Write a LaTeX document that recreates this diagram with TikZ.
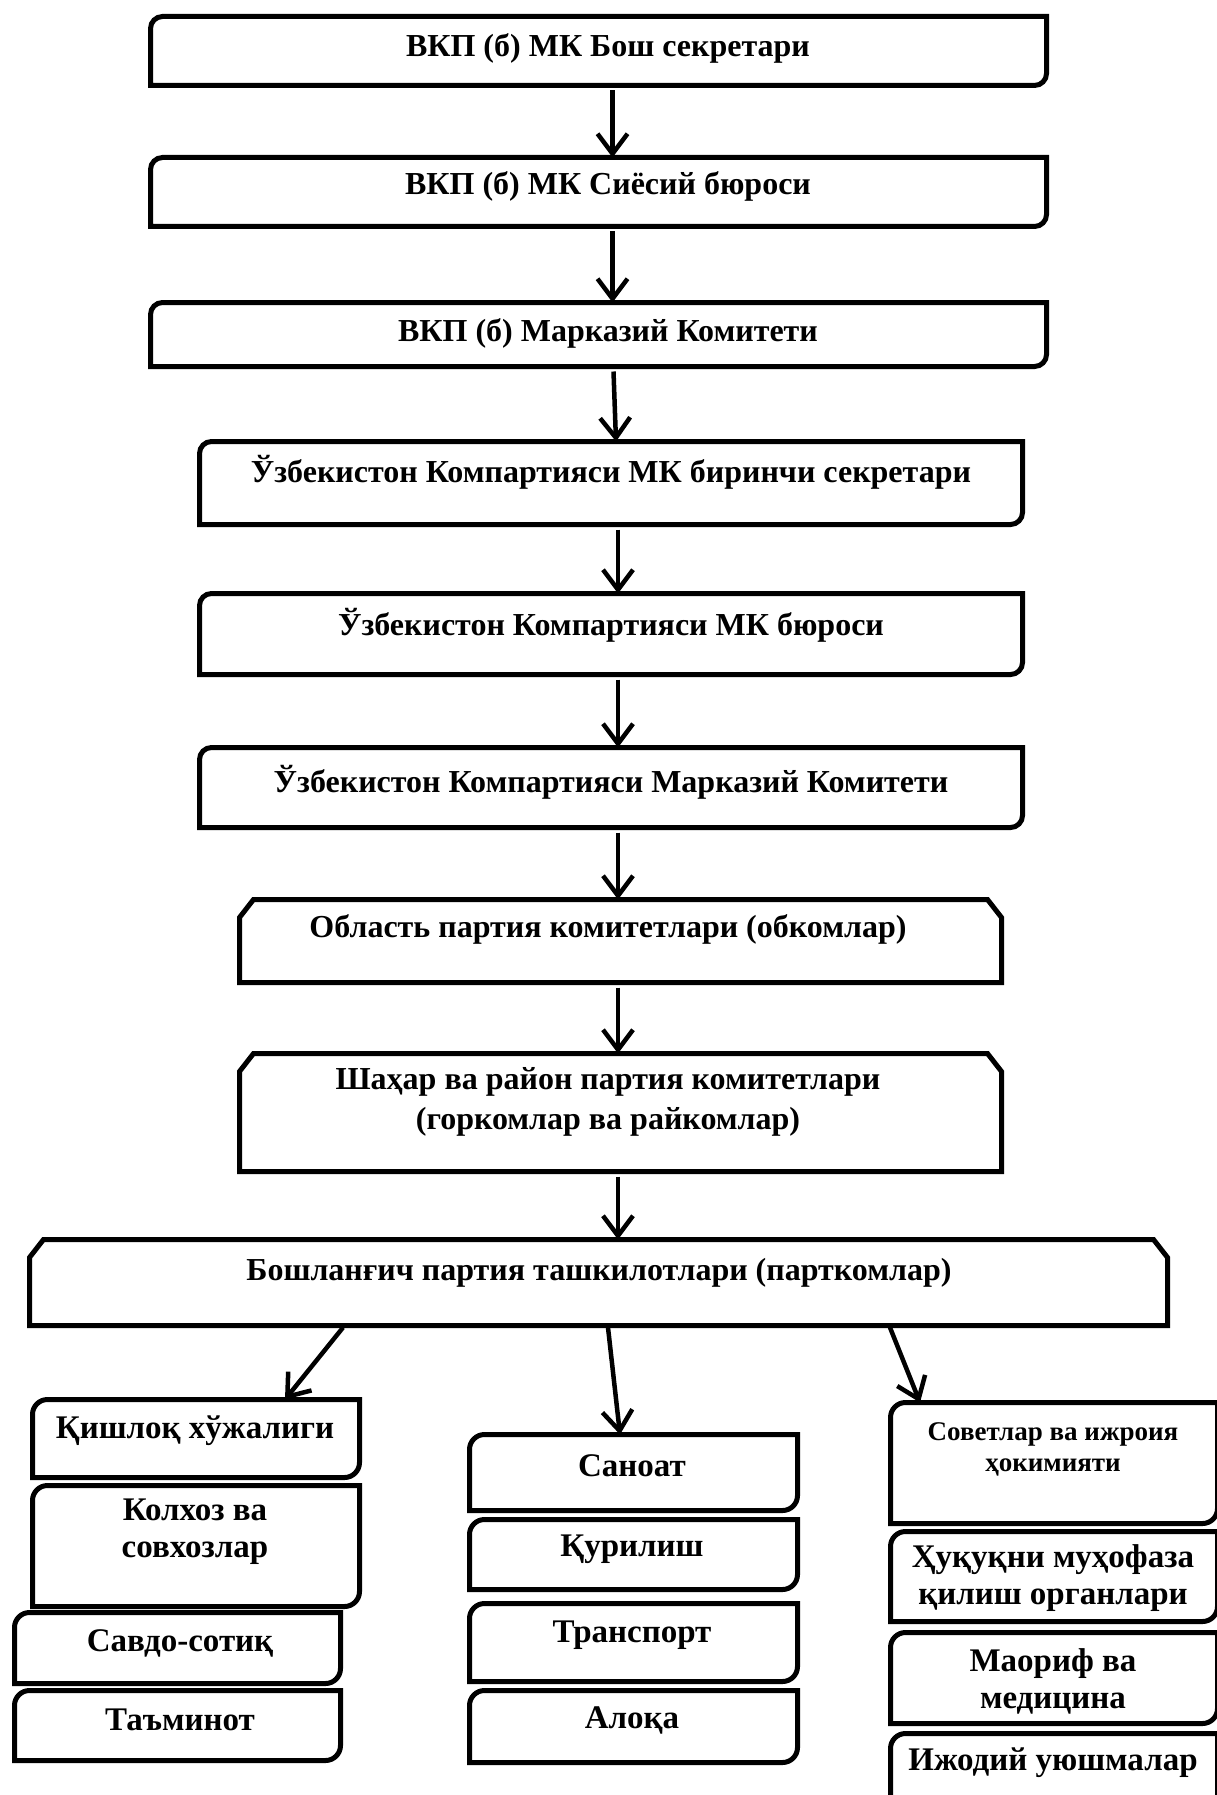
\documentclass[tikz,border=0pt]{standalone}
\usepackage{fontspec}
\setmainfont{Liberation Serif}
\usetikzlibrary{arrows.meta,calc}
\tikzset{
  frame/.style={inner sep=0pt,outer sep=0pt,draw=none},
  boxline/.style={line width=5pt,draw=black},
  toptext/.style={font=\bfseries\fontsize{32}{40}\selectfont,align=center,inner sep=0pt},
  bottext/.style={font=\bfseries\fontsize{33}{37}\selectfont,align=center,inner sep=0pt},
  smalltext/.style={font=\bfseries\fontsize{27}{31}\selectfont,align=center,inner sep=0pt},
  arr/.style={line width=4.5pt,-{Straight Barb[length=20pt,width=30pt]}}
}
\newcommand\RBox[6]{%
  \node[frame,minimum width={#4-#2-5},minimum height={#5-#3-5}] (#1) at ({(#2+#4)/2},{(#3+#5)/2}) {};
  \draw[boxline] ($(#1.north west)+(0pt,-#6pt)$) arc[start angle=180,end angle=90,radius=#6pt]
    -- (#1.north east) -- ($(#1.south east)+(0pt,#6pt)$) arc[start angle=0,end angle=-90,radius=#6pt]
    -- (#1.south west) -- cycle;
}
\newcommand\SBox[5]{%
  \node[frame,minimum width={#4-#2-5},minimum height={#5-#3-5}] (#1) at ({(#2+#4)/2},{(#3+#5)/2}) {};
  \draw[boxline] (#1.south west) -- ($(#1.north west)+(0pt,-18pt)$) -- ($(#1.north west)+(14pt,0pt)$)
    -- ($(#1.north east)+(-14pt,0pt)$) -- ($(#1.north east)+(0pt,-18pt)$) -- (#1.south east) -- cycle;
}
\begin{document}
\begin{tikzpicture}[x=1pt,y=-1pt]
\useasboundingbox[fill=white] (0,0) rectangle (1216,1795);
% top chain
\RBox{b1}{148}{14}{1049}{88}{12}
\RBox{b2}{148}{155}{1049}{229}{12}
\RBox{b3}{148}{300}{1049}{369}{12}
\RBox{b4}{197}{439}{1025}{527}{12}
\RBox{b5}{197}{591}{1025}{677}{12}
\RBox{b6}{197}{745}{1025}{830}{12}
\SBox{b7}{237}{897}{1004}{985}
\SBox{b8}{237}{1051}{1004}{1174}
\SBox{b9}{27}{1237}{1170}{1328}
\node[toptext] (t1) at (608,48) {ВКП (б) МК Бош секретари};
\node[toptext] (t2) at (608,186) {ВКП (б) МК Сиёсий бюроси};
\node[toptext] (t3) at (608,333) {ВКП (б) Марказий Комитети};
\node[toptext] (t4) at (611,472) {Ўзбекистон Компартияси МК биринчи секретари};
\node[toptext] (t5) at (611,625) {Ўзбекистон Компартияси МК бюроси};
\node[toptext] (t6) at (611,782) {Ўзбекистон Компартияси Марказий Комитети};
\node[toptext] (t7) at (608,929) {Область партия комитетлари (обкомлар)};
\node[toptext] (t8) at (608,1102) {Шаҳар ва район партия комитетлари\\(горкомлар ва райкомлар)};
\node[toptext] (t9) at (599,1273) {Бошланғич партия ташкилотлари (парткомлар)};
% left column
\RBox{l1}{30}{1397}{362}{1480}{15}
\RBox{l2}{30}{1483}{362}{1609}{15}
\RBox{l3}{12}{1610}{343}{1686}{15}
\RBox{l4}{12}{1688}{343}{1763}{15}
\node[bottext] (tl1) at (195,1431) {Қишлоқ хўжалиги};
\node[bottext] (tl2) at (195,1532) {Колхоз ва\\совхозлар};
\node[bottext] (tl3) at (180,1643) {Савдо-сотиқ};
\node[bottext] (tl4) at (180,1720) {Таъминот};
% middle column
\RBox{m1}{467}{1432}{800}{1513}{15}
\RBox{m2}{467}{1517}{800}{1592}{15}
\RBox{m3}{467}{1601}{800}{1684}{15}
\RBox{m4}{467}{1688}{800}{1765}{15}
\node[bottext] (tm1) at (632,1466) {Саноат};
\node[bottext] (tm2) at (632,1549) {Қурилиш};
\node[bottext] (tm3) at (632,1635) {Транспорт};
\node[bottext] (tm4) at (632,1720) {Алоқа};
% right column
\RBox{r1}{888}{1400}{1220}{1526}{15}
\RBox{r2}{888}{1529}{1220}{1624}{15}
\RBox{r3}{888}{1630}{1220}{1726}{15}
\RBox{r4}{888}{1731}{1220}{1830}{15}
\node[smalltext] (tr1) at (1053,1449) {Советлар ва ижроия\\ҳокимияти};
\node[bottext] (tr2) at (1053,1578) {Ҳуқуқни муҳофаза\\қилиш органлари};
\node[bottext] (tr3) at (1053,1681) {Маориф ва\\медицина};
\node[bottext] (tr4) at (1053,1763) {Ижодий уюшмалар};
% arrows
\draw[arr] ([xshift=14pt,yshift=-5pt]b1.south) -- ([xshift=14pt]b2.north);
\draw[arr] ([xshift=14pt,yshift=-5pt]b2.south) -- ([xshift=14pt]b3.north);
\draw[arr] ([xshift=15pt,yshift=-5pt]b3.south) -- ([xshift=5pt]b4.north);
\draw[arr] ([xshift=7pt,yshift=-5pt]b4.south) -- ([xshift=7pt]b5.north);
\draw[arr] ([xshift=7pt,yshift=-5pt]b5.south) -- ([xshift=7pt]b6.north);
\draw[arr] ([xshift=7pt,yshift=-5pt]b6.south) -- ([xshift=-2.5pt]b7.north);
\draw[arr] ([xshift=-2.5pt,yshift=-5pt]b7.south) -- ([xshift=-2.5pt]b8.north);
\draw[arr] ([xshift=-2.5pt,yshift=-5pt]b8.south) -- ([xshift=19.5pt]b9.north);
\draw[arr] ([xshift=-255.5pt,yshift=-2pt]b9.south) -- ([xshift=89pt]l1.north);
\draw[arr] ([xshift=9.5pt,yshift=-2pt]b9.south) -- ([xshift=-13.5pt]m1.north);
\draw[arr] ([xshift=291.5pt,yshift=-2pt]b9.south) -- ([xshift=-134pt]r1.north);
\end{tikzpicture}
\end{document}
